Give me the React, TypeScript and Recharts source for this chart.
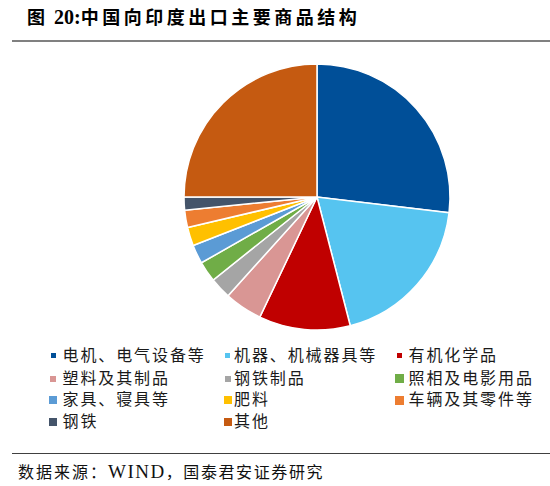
import React from "react";
import { PieChart, Pie, Cell } from "recharts";

const categories = [
  "电机、电气设备等",
  "机器、机械器具等",
  "有机化学品",
  "塑料及其制品",
  "钢铁制品",
  "照相及电影用品",
  "家具、寝具等",
  "肥料",
  "车辆及其零件等",
  "钢铁",
  "其他",
];
const shares = [26.9, 19.1, 11.1, 4.6, 2.6, 2.5, 2.3, 2.25, 2.1, 1.6, 25.0];
const colors = [
  "#004f98",
  "#56c4f0",
  "#c00000",
  "#d99694",
  "#a5a5a5",
  "#70ad47",
  "#5b9bd5",
  "#ffc000",
  "#ed7d31",
  "#44546a",
  "#c55a11",
];
const titlePrefix = "图";
const titleNumber = "20:";
const titleMain = "中国向印度出口主要商品结构";
const sourceLead = "数据来源：";
const sourceName = "WIND";
const sourceTail = "，国泰君安证券研究";

const markerSizes = [5, 5, 5, 6, 6, 9, 8, 8, 9, 8, 8];
const colMarkerCenter = [53, 227.5, 399.5];
const colTextLeft = [62.5, 234, 408.5];
const rowCenter = [355.5, 378.5, 400, 421.5];

const FONT = "'Liberation Serif', 'Noto Sans CJK SC', serif";

export default function App() {
  const data = categories.map((name, i) => ({ name, value: shares[i] }));
  return (
    <div
      style={{
        position: "absolute",
        left: 0,
        top: 0,
        width: 550,
        height: 486,
        background: "#fff",
        fontFamily: FONT,
        overflow: "hidden",
      }}
    >
      <div
        style={{
          position: "absolute",
          left: 27,
          top: 4,
          fontSize: 18,
          fontWeight: "bold",
          color: "#000",
          whiteSpace: "nowrap",
          lineHeight: "26px",
        }}
      >
        <span style={{ letterSpacing: 0 }}>{titlePrefix}</span>
        <span style={{ display: "inline-block", width: 9 }} />
        <span style={{ fontSize: 20, letterSpacing: 0 }}>{titleNumber}</span>
        <span style={{ letterSpacing: 3.5 }}>{titleMain}</span>
      </div>
      <div
        style={{
          position: "absolute",
          left: 12,
          top: 40,
          width: 538,
          height: 2,
          background: "#808080",
        }}
      />
      <div style={{ position: "absolute", left: 0, top: 0 }}>
        <PieChart width={550} height={340} margin={{ top: 0, right: 0, bottom: 0, left: 0 }}>
          <Pie
            data={data}
            dataKey="value"
            nameKey="name"
            cx={317}
            cy={197}
            outerRadius={133}
            startAngle={90}
            endAngle={-270}
            stroke="#ffffff"
            strokeWidth={1.5}
            isAnimationActive={false}
            labelLine={false}
          >
            {data.map((d, i) => (
              <Cell key={d.name} fill={colors[i]} />
            ))}
          </Pie>
        </PieChart>
      </div>
      {categories.map((name, i) => {
        const row = Math.floor(i / 3);
        const col = i % 3;
        const s = markerSizes[i];
        const cy = rowCenter[row];
        return (
          <React.Fragment key={name}>
            <div
              style={{
                position: "absolute",
                left: colMarkerCenter[col] - s / 2,
                top: cy - s / 2,
                width: s,
                height: s,
                background: colors[i],
              }}
            />
            <div
              style={{
                position: "absolute",
                left: colTextLeft[col],
                top: cy - 11,
                height: 22,
                lineHeight: "22px",
                fontSize: 16,
                letterSpacing: 1.9,
                color: "#1a1a1a",
                whiteSpace: "nowrap",
              }}
            >
              {name}
            </div>
          </React.Fragment>
        );
      })}
      <div
        style={{
          position: "absolute",
          left: 12,
          top: 453,
          width: 538,
          height: 1,
          background: "#404040",
        }}
      />
      <div
        style={{
          position: "absolute",
          left: 18,
          top: 460,
          height: 24,
          lineHeight: "24px",
          fontSize: 16,
          color: "#111",
          whiteSpace: "nowrap",
        }}
      >
        <span style={{ letterSpacing: 2 }}>{sourceLead}</span>
        <span style={{ fontSize: 19, letterSpacing: 1.5 }}>{sourceName}</span>
        <span style={{ letterSpacing: 1.6 }}>{sourceTail}</span>
      </div>
    </div>
  );
}
